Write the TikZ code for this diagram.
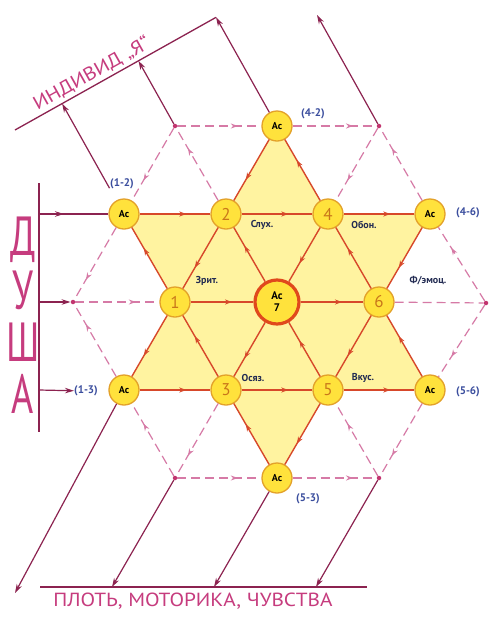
\documentclass[tikz,border=0pt]{standalone}
\usepackage{fontspec}
\setmainfont{PT Sans}
\usetikzlibrary{arrows.meta,decorations.markings,calc}
\definecolor{solidred}{HTML}{D7482A}
\definecolor{dashpink}{HTML}{D67AA6}
\definecolor{outcol}{HTML}{8C2350}
\definecolor{textmag}{HTML}{C63C7E}
\definecolor{nodefill}{HTML}{FFE23C}
\definecolor{nodeedge}{HTML}{E3A12A}
\definecolor{starfill}{HTML}{FFF3A0}
\definecolor{bluelab}{HTML}{3B4E9E}
\definecolor{navylab}{HTML}{222B52}
\definecolor{numcol}{HTML}{C9771A}
\definecolor{dotcol}{HTML}{C2356F}
\definecolor{centeredge}{HTML}{E0491C}
\begin{document}
\begin{tikzpicture}[x=1pt,y=-1pt,
 every node/.style={inner sep=0pt},
 hub/.style={circle, fill=nodefill, draw=nodeedge, line width=1.3pt, minimum size=30pt, font=\fontsize{10}{10}\selectfont\bfseries},
 numhub/.style={hub, text=numcol, font=\fontsize{17}{17}\selectfont},
 centerhub/.style={circle, fill=nodefill, draw=centeredge, line width=3.2pt, minimum size=44pt, align=center, font=\fontsize{11}{11}\selectfont\bfseries},
 gdot/.style={circle, fill=dotcol, minimum size=4.5pt},
 flow/.style={draw=solidred, line width=1.4pt, postaction={decorate}, decoration={markings, mark=at position 0.66 with {\arrow[solidred]{Stealth[length=7pt,width=5pt]}}}},
 dflow/.style={draw=dashpink, line width=1.2pt, dash pattern=on 9pt off 5pt, postaction={decorate}, decoration={markings, mark=at position 0.72 with {\arrow[dashpink]{Stealth[length=7pt,width=5pt]}}}},
 dplain/.style={draw=dashpink, line width=1.2pt, dash pattern=on 9pt off 5pt},
 outarrow/.style={draw=outcol, line width=1.2pt, -{Stealth[length=9pt,width=5.5pt]}},
 midout/.style={draw=outcol, line width=1.2pt, postaction={decorate}, decoration={markings, mark=at position 0.36 with {\arrow[outcol]{Stealth[length=9pt,width=5.5pt]}}}},
 axisline/.style={draw=outcol, line width=1.3pt},
 pairlab/.style={text=bluelab, font=\fontsize{11}{11}\selectfont\bfseries},
 senselab/.style={text=navylab, font=\fontsize{10}{10}\selectfont\bfseries},
 bigtext/.style={text=textmag, font=\fontsize{19}{19}\selectfont},
 sideletter/.style={text=textmag, font=\fontsize{38}{38}\selectfont, yscale=1.45}
]
\useasboundingbox (0,0) rectangle (503,622);
\fill[white] (0,0) rectangle (503,622);
% grid positions
\coordinate (pTop) at (277,126);
\coordinate (pTL) at (175,126);
\coordinate (pTR) at (379,126);
\coordinate (p12) at (124,214);
\coordinate (p2) at (226,214);
\coordinate (p4) at (328,214);
\coordinate (p46) at (430,214);
\coordinate (pL) at (73,302);
\coordinate (p1) at (175,302);
\coordinate (p7) at (277,302);
\coordinate (p6) at (379,302);
\coordinate (pR) at (486,303);
\coordinate (p13) at (124,390);
\coordinate (p3) at (226,390);
\coordinate (p5) at (328,390);
\coordinate (p56) at (430,390);
\coordinate (pBL) at (175,478);
\coordinate (pBot) at (277,478);
\coordinate (pBR) at (379,478);
% star fill
\fill[starfill] (pTop) -- (p13) -- (p56) -- cycle;
\fill[starfill] (p12) -- (p46) -- (pBot) -- cycle;
% nodes
\node[hub] (atop) at (pTop) {Ас};
\node[hub] (a12) at (p12) {Ас};
\node[hub] (a46) at (p46) {Ас};
\node[hub] (a13) at (p13) {Ас};
\node[hub] (a56) at (p56) {Ас};
\node[hub] (abot) at (pBot) {Ас};
\node[numhub] (n1) at (p1) {1};
\node[numhub] (n2) at (p2) {2};
\node[numhub] (n3) at (p3) {3};
\node[numhub] (n4) at (p4) {4};
\node[numhub] (n5) at (p5) {5};
\node[numhub] (n6) at (p6) {6};
\node[centerhub] (a7) at (p7) {Ас\\[1pt]7};
\node[gdot] (dTL) at (pTL) {};
\node[gdot] (dTR) at (pTR) {};
\node[gdot] (dL) at (pL) {};
\node[gdot] (dR) at (pR) {};
\node[gdot] (dBL) at (pBL) {};
\node[gdot] (dBR) at (pBR) {};
% solid flows
\draw[flow] (a12) -- (n2);
\draw[flow] (n2) -- (n4);
\draw[flow] (n4) -- (a46);
\draw[flow] (n1) -- (a7);
\draw[flow] (a7) -- (n6);
\draw[flow] (a13) -- (n3);
\draw[flow] (n3) -- (n5);
\draw[flow] (n5) -- (a56);
\draw[flow] (atop) -- (n2);
\draw[flow] (n2) -- (n1);
\draw[flow] (n1) -- (a13);
\draw[flow] (a56) -- (n6);
\draw[flow] (n6) -- (n4);
\draw[flow] (n4) -- (atop);
\draw[flow] (a46) -- (n6);
\draw[flow] (n6) -- (n5);
\draw[flow] (n5) -- (abot);
\draw[flow] (abot) -- (n3);
\draw[flow] (n3) -- (n1);
\draw[flow] (n1) -- (a12);
\draw[flow] (n4) -- (a7);
\draw[flow] (a7) -- (n3);
\draw[flow] (n5) -- (a7);
\draw[flow] (a7) -- (n2);
% dashed flows
\draw[dflow] (n2) -- (dTL);
\draw[dflow] (dTL) -- (a12);
\draw[dflow] (dTL) -- (atop);
\draw[dflow] (atop) -- (dTR);
\draw[dflow] (a46) -- (dTR);
\draw[dflow] (dTR) -- (n4);
\draw[dflow] (a12) -- (dL);
\draw[dflow] (a13) -- (dL);
\draw[dflow] (dL) -- (n1);
\draw[dplain] (n6) -- (dR);
\draw[dflow] (dR) -- (a46);
\draw[dflow] (dR) -- (a56);
\draw[dflow] (n3) -- (dBL);
\draw[dflow] (dBL) -- (a13);
\draw[dflow] (dBL) -- (abot);
\draw[dflow] (abot) -- (dBR);
\draw[dflow] (a56) -- (dBR);
\draw[dflow] (dBR) -- (n5);
% pair labels
\node[pairlab] (l12) at (122,184) {(1-2)};
\node[pairlab] (l42) at (313,114) {(4-2)};
\node[pairlab] (l46) at (468,213) {(4-6)};
\node[pairlab] (l56) at (468,392) {(5-6)};
\node[pairlab] (l53) at (308,499) {(5-3)};
\node[pairlab] (l13) at (86,391) {(1-3)};
% sense labels
\node[senselab] (sSl) at (262,225) {Слух.};
\node[senselab] (sOb) at (364,225) {Обон.};
\node[senselab] (sZr) at (207,281) {Зрит.};
\node[senselab] (sEm) at (428,281) {Ф/эмоц.};
\node[senselab] (sOs) at (253,378) {Осяз.};
\node[senselab] (sVk) at (363,378) {Вкус.};
% left axis
\coordinate (V1) at (39,183);
\coordinate (V2) at (39,432);
\coordinate (VA) at (39,214);
\coordinate (VB) at (39,302);
\coordinate (VC) at (39,390);
\draw[axisline] (V1) -- (V2);
\draw[midout] (VA) -- (a12);
\draw[outarrow] (VB) -- (dL);
\draw[outarrow] (VC) -- (l13);
\node[sideletter] (ld1) at (23,240) {Д};
\node[sideletter] (ld2) at (23,290) {У};
\node[sideletter] (ld3) at (23,342) {Ш};
\node[sideletter] (ld4) at (23,394) {А};
% top axis
\coordinate (IL) at (15,130);
\coordinate (IDir) at (222,14);
\coordinate (I1) at ($(IL)!(p12)!(IDir)$);
\coordinate (I2) at ($(IL)!(pTL)!(IDir)$);
\coordinate (I3) at ($(IL)!(pTop)!(IDir)$);
\coordinate (I4) at ($(pTR)+(-62,-111)$);
\draw[axisline] (IL) -- (I3);
\draw[outarrow, shorten <=14pt] (a12) -- (I1);
\draw[outarrow] (dTL) -- (I2);
\draw[outarrow] (atop) -- (I3);
\draw[outarrow] (dTR) -- (I4);
\node[bigtext, rotate=29.26, xscale=1.12, anchor=south, inner sep=3pt] (tInd) at ($(IL)!0.41!(I3)$) {ИНДИВИД „Я“};
% bottom axis
\coordinate (BL0) at (40,587);
\coordinate (BR0) at (367,587);
\draw[axisline] (BL0) -- (BR0);
\coordinate (B1) at (15,593);
\coordinate (B2) at ($(pBL)+(-63,109)$);
\coordinate (B3) at ($(pBot)+(-63,109)$);
\coordinate (B4) at ($(pBR)+(-63,109)$);
\draw[outarrow] (a13) -- (B1);
\draw[outarrow] (dBL) -- (B2);
\draw[outarrow] (abot) -- (B3);
\draw[outarrow] (dBR) -- (B4);
\node[bigtext, xscale=1.12] (tBody) at (193,601) {ПЛОТЬ, МОТОРИКА, ЧУВСТВА};
\end{tikzpicture}
\end{document}
